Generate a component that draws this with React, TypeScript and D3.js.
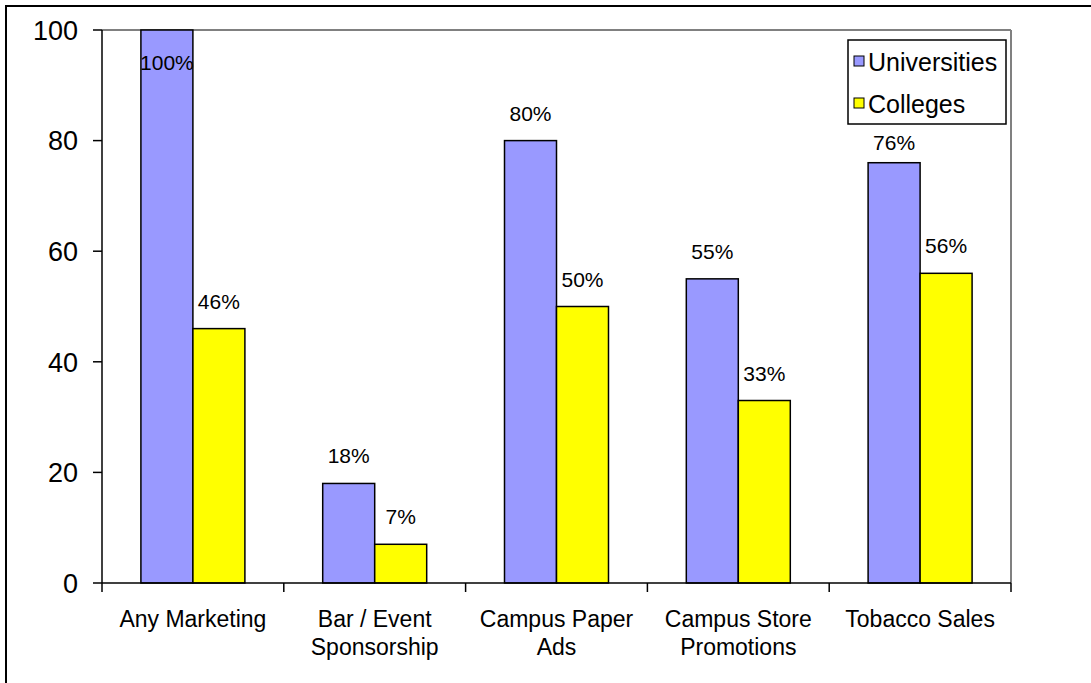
import React from "react";
import * as d3 from "d3";

const categories = [
  ["Any Marketing"],
  ["Bar / Event", "Sponsorship"],
  ["Campus Paper", "Ads"],
  ["Campus Store", "Promotions"],
  ["Tobacco Sales"],
];
const seriesNames = ["Universities", "Colleges"];
const universities = [100, 18, 80, 55, 76];
const colleges = [46, 7, 50, 33, 56];
const yTicks = [0, 20, 40, 60, 80, 100];
const colors = ["#9999FF", "#FFFF00"];

const W = 1091;
const H = 683;
const plot = { left: 102, right: 1011, top: 30, bottom: 583 };
const legendBox = { x: 848, y: 40, w: 158, h: 84 };
const FONT = "Liberation Sans, Arial, sans-serif";

export default function App() {
  const x = d3
    .scaleBand<number>()
    .domain(d3.range(categories.length))
    .range([plot.left, plot.right]);
  const y = d3.scaleLinear().domain([0, 100]).range([plot.bottom, plot.top]);
  const bw = x.bandwidth() * 0.286;
  const series = [universities, colleges];

  return (
    <svg
      width={W}
      height={H}
      style={{ position: "absolute", left: 0, top: 0, background: "#fff" }}
      fontFamily={FONT}
    >
      <rect x={6} y={6} width={W + 20} height={H + 20} fill="#fff" stroke="#000" strokeWidth={2} />
      {/* plot border */}
      <line x1={plot.left} x2={plot.right} y1={plot.top} y2={plot.top} stroke="#808080" strokeWidth={2} />
      <line x1={plot.right} x2={plot.right} y1={plot.top} y2={plot.bottom} stroke="#808080" strokeWidth={2} />

      {/* bars */}
      {series.map((vals, si) =>
        vals.map((v, i) => {
          const cx = (x(i) as number) + x.bandwidth() / 2;
          const bx = cx - bw + si * bw;
          return (
            <rect
              key={`b${si}-${i}`}
              x={bx}
              y={y(v)}
              width={bw}
              height={y(0) - y(v)}
              fill={colors[si]}
              stroke="#000"
              strokeWidth={1.5}
            />
          );
        })
      )}

      {/* value labels */}
      {series.map((vals, si) =>
        vals.map((v, i) => {
          const cx = (x(i) as number) + x.bandwidth() / 2;
          const tx = cx - bw / 2 + si * bw;
          let ty = y(v) - 20;
          if (ty - 16 < plot.top) ty = y(v) + 40;
          // avoid the legend box
          const lb = legendBox.y + legendBox.h;
          if (tx + 20 > legendBox.x && ty - 16 < lb + 10) ty = lb + 26;
          return (
            <text key={`l${si}-${i}`} x={tx} y={ty} textAnchor="middle" fontSize={21} fill="#000">
              {v}%
            </text>
          );
        })
      )}

      {/* y axis */}
      <line x1={plot.left} x2={plot.left} y1={plot.top} y2={plot.bottom} stroke="#000" strokeWidth={1.5} />
      {yTicks.map((t) => (
        <g key={`yt${t}`}>
          <line x1={plot.left - 9} x2={plot.left} y1={y(t)} y2={y(t)} stroke="#000" strokeWidth={1.5} />
          <text x={78} y={y(t)} dy="0.36em" textAnchor="end" fontSize={27} fill="#000">
            {t}
          </text>
        </g>
      ))}

      {/* x axis */}
      <line x1={plot.left} x2={plot.right} y1={plot.bottom} y2={plot.bottom} stroke="#000" strokeWidth={1.5} />
      {d3.range(categories.length + 1).map((i) => {
        const xx = i < categories.length ? (x(i) as number) : plot.right;
        return <line key={`xt${i}`} x1={xx} x2={xx} y1={plot.bottom} y2={plot.bottom + 9} stroke="#000" strokeWidth={1.5} />;
      })}
      {categories.map((lines, i) => {
        const cx = (x(i) as number) + x.bandwidth() / 2;
        return (
          <text key={`c${i}`} x={cx} textAnchor="middle" fontSize={23} fill="#000">
            {lines.map((ln, k) => (
              <tspan key={k} x={cx} y={627 + k * 28}>
                {ln}
              </tspan>
            ))}
          </text>
        );
      })}

      {/* legend */}
      <rect x={legendBox.x} y={legendBox.y} width={legendBox.w} height={legendBox.h} fill="#fff" stroke="#000" strokeWidth={1.5} />
      {seriesNames.map((n, si) => (
        <g key={`lg${si}`}>
          <rect x={854} y={56 + si * 42} width={10} height={10} fill={colors[si]} stroke="#000" strokeWidth={1} />
          <text x={868} y={62 + si * 42} dy="0.36em" fontSize={25} fill="#000">
            {n}
          </text>
        </g>
      ))}
    </svg>
  );
}
